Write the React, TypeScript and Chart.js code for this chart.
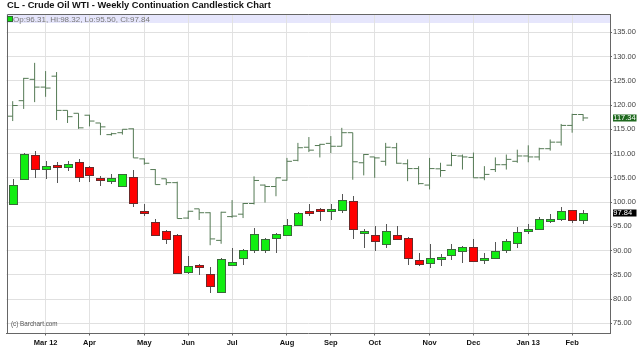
import React, { useEffect, useRef } from "react";
import { Chart, registerables } from "chart.js";

Chart.register(...registerables);

// Weekly bars, week of Feb 13 2012 (index 0) through week of Feb 11 2013 (index 52)
const wtiOpen = [99.7, 104.8, 109.8, 106.9, 107.7, 107.3, 108.2, 107.3, 104.9, 104.4, 103.4, 105.1, 98.1, 95.9, 94.1, 93.3, 85.5, 87.1, 85.1, 81.5, 87.0, 88.4, 90.1, 90.2, 92.5, 93.3, 95.3, 98.1, 98.6, 98.2, 98.4, 100.3, 93.8, 93.3, 91.4, 93.3, 92.6, 88.1, 87.5, 88.3, 89.1, 90.0, 90.8, 88.05, 88.4, 90.05, 91.6, 94.0, 94.5, 96.1, 96.6, 98.3, 96.31];
const wtiHigh = [104.8, 110.1, 110.6, 108.4, 108.2, 108.4, 108.8, 107.4, 105.3, 105.7, 105.8, 106.6, 99.5, 96.6, 94.2, 93.4, 88.9, 87.2, 86.7, 88.4, 90.6, 90.4, 94.7, 92.6, 93.6, 96.6, 97.9, 99.6, 98.7, 99.5, 101.7, 101.2, 94.5, 95.0, 95.5, 95.0, 92.7, 89.5, 91.4, 89.2, 91.4, 90.9, 92.3, 89.4, 91.7, 92.4, 94.9, 95.5, 97.0, 97.45, 98.9, 98.4, 98.32];
const wtiLow = [99.5, 104.7, 105.0, 104.7, 104.0, 106.4, 104.2, 104.1, 103.4, 103.8, 103.3, 98.9, 97.2, 93.1, 91.3, 85.1, 85.2, 84.9, 81.2, 81.3, 86.8, 87.1, 89.5, 89.4, 89.5, 93.2, 95.2, 97.2, 96.0, 96.3, 97.8, 92.3, 90.6, 89.9, 90.6, 92.2, 87.1, 86.8, 86.5, 86.9, 88.0, 87.5, 87.8, 87.15, 88.3, 89.5, 90.6, 93.45, 94.35, 95.6, 96.1, 95.6, 95.5];
const wtiClose = [103.6, 109.9, 106.9, 107.5, 107.2, 107.8, 105.1, 105.5, 104.8, 104.9, 105.7, 99.8, 97.7, 93.2, 92.4, 85.4, 86.8, 86.6, 82.6, 88.3, 87.6, 90.2, 93.5, 92.4, 93.4, 95.3, 97.8, 97.7, 98.4, 98.5, 100.5, 94.5, 94.1, 92.0, 94.1, 92.4, 88.4, 87.3, 88.4, 88.7, 90.35, 90.7, 87.9, 88.45, 90.0, 92.0, 93.9, 94.4, 96.5, 96.5, 98.25, 96.4, 97.84];

const brentOpen = [117.7, 120.9, 125.3, 123.7, 125.95, 118.9, 118.3, 117.9, 116.3, 113.9, 114.3, 115.1, 108.9, 106.7, 104.8, 104.0, 96.7, 98.6, 97.8, 92.1, 97.0, 97.5, 99.7, 103.5, 103.2, 104.5, 108.6, 111.3, 111.65, 112.1, 111.5, 114.3, 108.1, 109.3, 108.4, 111.2, 107.9, 106.9, 103.5, 106.85, 107.6, 109.5, 109.2, 105.0, 106.7, 107.7, 108.4, 109.5, 109.3, 111.0, 112.35, 115.8, 118.05];
const brentHigh = [120.8, 125.6, 128.7, 127.0, 126.8, 118.9, 118.3, 118.0, 116.3, 114.3, 115.0, 115.2, 109.0, 106.8, 104.8, 104.2, 98.2, 98.6, 97.9, 98.0, 100.4, 99.8, 105.3, 103.6, 105.0, 109.1, 112.2, 113.4, 112.0, 113.6, 115.3, 114.3, 109.9, 109.3, 112.2, 112.2, 108.8, 107.4, 109.1, 108.1, 110.2, 109.8, 110.2, 107.4, 109.2, 109.8, 110.8, 111.7, 111.2, 112.9, 116.1, 118.2, 118.1];
const brentLow = [116.7, 119.2, 120.6, 121.7, 116.9, 116.3, 115.1, 115.6, 113.8, 113.7, 113.9, 109.1, 107.7, 103.6, 103.5, 96.6, 96.5, 96.3, 91.1, 91.4, 96.75, 96.7, 99.5, 99.9, 101.2, 104.4, 108.4, 110.3, 109.2, 110.1, 111.5, 104.6, 105.5, 105.0, 107.5, 107.9, 104.3, 103.6, 102.6, 105.2, 107.4, 106.7, 105.0, 104.5, 106.2, 106.7, 108.1, 108.2, 108.6, 110.6, 111.65, 114.3, 116.7];
const brentClose = [119.9, 125.5, 123.7, 123.5, 118.9, 117.6, 115.3, 116.7, 115.5, 114.1, 115.0, 109.1, 108.0, 103.6, 104.0, 96.6, 98.1, 97.8, 92.4, 97.9, 97.1, 99.7, 104.45, 103.2, 105.0, 108.4, 111.2, 110.7, 111.9, 111.5, 114.3, 108.3, 109.8, 109.1, 111.3, 108.0, 106.9, 103.8, 106.9, 106.5, 109.6, 109.3, 105.0, 105.7, 107.7, 108.8, 109.5, 109.3, 111.0, 112.35, 115.8, 118.05, 117.34];

const monthLabels = ["Mar 12", "Apr", "May", "Jun", "Jul", "Aug", "Sep", "Oct", "Nov", "Dec", "Jan 13", "Feb"];
const monthIndex = [3, 7, 12, 16, 20, 25, 29, 33, 38, 42, 47, 51];
const priceTicks = [75, 80, 85, 90, 95, 100, 105, 110, 115, 120, 125, 130, 135];

const TITLE = "CL - Crude Oil WTI - Weekly Continuation Candlestick Chart";
const COPYRIGHT = "(c) Barchart.com";

const FONT = "'Liberation Sans', Arial, Helvetica, sans-serif";

const last = wtiClose.length - 1;
const legendText = `Op:${wtiOpen[last].toFixed(2)}, Hi:${wtiHigh[last].toFixed(2)}, Lo:${wtiLow[last].toFixed(2)}, Cl:${wtiClose[last].toFixed(2)}`;

const drawPlugin = {
  id: "candles",
  beforeDraw(chart: any) {
    const { ctx, chartArea } = chart;
    const { left, right, top } = chartArea;
    ctx.save();
    ctx.fillStyle = "#e6e6fc";
    ctx.fillRect(left, top, right - left, 9);
    ctx.restore();
  },
  afterDatasetsDraw(chart: any) {
    const { ctx, scales } = chart;
    const xs = scales.x;
    const ys = scales.y;
    ctx.save();
    // Brent-like OHLC overlay
    ctx.strokeStyle = "#557a55";
    ctx.lineWidth = 1;
    for (let i = 0; i < brentOpen.length; i++) {
      const x = xs.getPixelForValue(i);
      const yo = ys.getPixelForValue(brentOpen[i]);
      const yh = ys.getPixelForValue(brentHigh[i]);
      const yl = ys.getPixelForValue(brentLow[i]);
      const yc = ys.getPixelForValue(brentClose[i]);
      ctx.beginPath();
      ctx.moveTo(x, yh);
      ctx.lineTo(x, yl);
      ctx.moveTo(x - 5, yo);
      ctx.lineTo(x, yo);
      ctx.moveTo(x, yc);
      ctx.lineTo(x + 5, yc);
      ctx.stroke();
    }
    // WTI candles
    for (let i = 0; i < wtiOpen.length; i++) {
      const xc = Math.round(xs.getPixelForValue(i)) + 0.5;
      const yo = ys.getPixelForValue(wtiOpen[i]);
      const yh = ys.getPixelForValue(wtiHigh[i]);
      const yl = ys.getPixelForValue(wtiLow[i]);
      const yc = ys.getPixelForValue(wtiClose[i]);
      const up = wtiClose[i] >= wtiOpen[i];
      ctx.strokeStyle = "#555555";
      ctx.beginPath();
      ctx.moveTo(xc, Math.round(yh));
      ctx.lineTo(xc, Math.round(yl));
      ctx.stroke();
      const t = Math.round(Math.min(yo, yc)) + 0.5;
      let b = Math.round(Math.max(yo, yc)) + 0.5;
      if (b - t < 2) b = t + 2;
      ctx.fillStyle = up ? "#11ee11" : "#ff0000";
      ctx.fillRect(xc - 4, t, 8, b - t);
      ctx.strokeStyle = up ? "#3a6a3a" : "#6a2a2a";
      ctx.strokeRect(xc - 4, t, 8, b - t);
    }
    ctx.restore();
  },
  afterDraw(chart: any) {
    const { ctx, chartArea, scales } = chart;
    const { left, right, top, bottom } = chartArea;
    const ys = scales.y;
    ctx.save();
    // frame top and left
    ctx.strokeStyle = "#666666";
    ctx.lineWidth = 1;
    ctx.beginPath();
    ctx.moveTo(Math.round(left) + 0.5, Math.round(bottom));
    ctx.lineTo(Math.round(left) + 0.5, Math.round(top) + 0.5);
    ctx.lineTo(right, Math.round(top) + 0.5);
    ctx.stroke();
    // title
    ctx.fillStyle = "#111111";
    ctx.font = `bold 9.3px ${FONT}`;
    ctx.textBaseline = "middle";
    ctx.textAlign = "left";
    ctx.fillText(TITLE, 7, 5);
    // legend in band
    ctx.fillStyle = "#11dd11";
    ctx.fillRect(8, 17, 4, 4);
    ctx.strokeStyle = "#336633";
    ctx.strokeRect(7.5, 16.5, 5, 5);
    ctx.fillStyle = "#777777";
    ctx.font = `8px ${FONT}`;
    ctx.fillText(legendText, 13, 19.5);
    // copyright
    ctx.fillStyle = "#555555";
    ctx.font = `6.3px ${FONT}`;
    ctx.fillText(COPYRIGHT, 11, 324.5);
    // last value boxes
    const boxes = [
      { v: brentClose[last], bg: "#1f6a1f" },
      { v: wtiClose[last], bg: "#000000" },
    ];
    ctx.font = `7.5px ${FONT}`;
    for (const bx of boxes) {
      const yv = Math.round(ys.getPixelForValue(bx.v));
      ctx.fillStyle = bx.bg;
      ctx.fillRect(right + 3, yv - 3.5, 23.5, 7);
      ctx.fillStyle = "#ffffff";
      ctx.fillText(bx.v.toFixed(2), right + 3.3, yv + 0.2);
    }
    ctx.restore();
  },
};

export default function App() {
  const canvasRef = useRef<HTMLCanvasElement | null>(null);

  useEffect(() => {
    const canvas = canvasRef.current;
    if (!canvas) return;
    const chart = new Chart(canvas, {
      type: "scatter",
      data: {
        datasets: [
          {
            label: "WTI close",
            data: wtiClose.map((c, i) => ({ x: i, y: c })),
            pointRadius: 0,
            showLine: false,
          },
        ],
      },
      options: {
        responsive: false,
        animation: false,
        devicePixelRatio: 1,
        layout: { padding: { left: 6.5, top: 14, right: 0, bottom: 0 } },
        plugins: {
          legend: { display: false },
          tooltip: { enabled: false },
          title: { display: false },
        },
        scales: {
          x: {
            type: "linear",
            position: "bottom",
            min: -0.565,
            max: 54.45,
            afterBuildTicks: (s: any) => {
              s.ticks = monthIndex.map((v) => ({ value: v }));
            },
            afterFit: (s: any) => {
              s.height = 29.5;
            },
            ticks: {
              autoSkip: false,
              maxRotation: 0,
              padding: 3,
              color: "#111111",
              font: { family: FONT, size: 7.5, weight: "bold" },
              callback: (v: any) => {
                const k = monthIndex.indexOf(Number(v));
                return k >= 0 ? monthLabels[k] : "";
              },
            },
            grid: { color: "#e2e2e2", tickLength: 2, tickColor: "#666666" },
            border: { color: "#666666", width: 1 },
          },
          y: {
            type: "linear",
            position: "right",
            min: 72.9,
            max: 138.77,
            afterBuildTicks: (s: any) => {
              s.ticks = priceTicks.map((v) => ({ value: v }));
            },
            afterFit: (s: any) => {
              s.width = 30;
            },
            ticks: {
              padding: 1,
              color: "#444444",
              font: { family: FONT, size: 7.5 },
              callback: (v: any) => Number(v).toFixed(2),
            },
            grid: { color: "#e0e0e0", tickLength: 2, tickColor: "#666666" },
            border: { color: "#666666", width: 1 },
          },
        },
      },
      plugins: [drawPlugin],
    });
    return () => chart.destroy();
  }, []);

  return (
    <div style={{ position: "absolute", left: 0, top: 0, width: 640, height: 363, background: "#ffffff" }}>
      <canvas ref={canvasRef} width={640} height={363} />
    </div>
  );
}
